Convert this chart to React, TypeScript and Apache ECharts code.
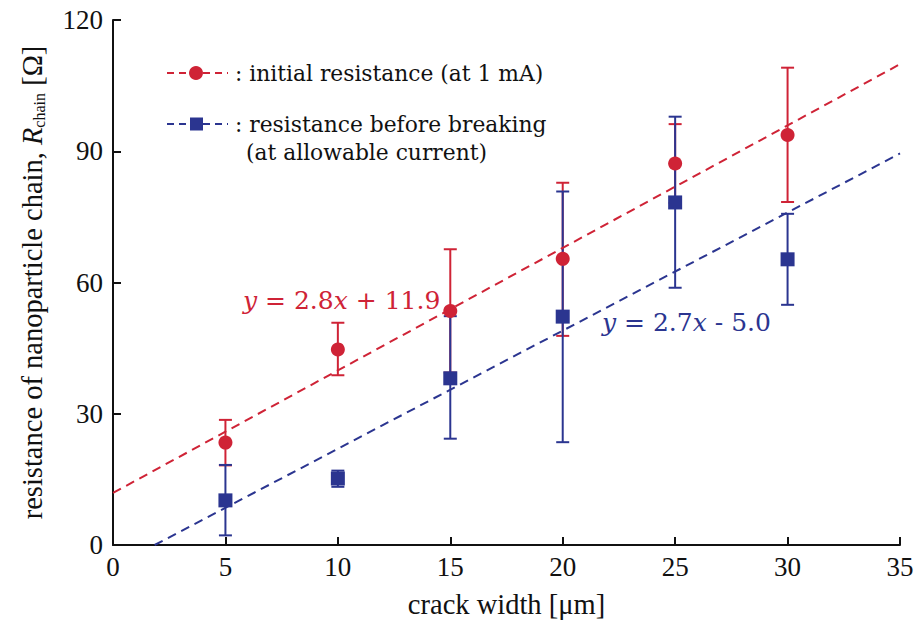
import React, { useEffect, useRef } from "react";
import * as echarts from "echarts";

const crackWidth = [5, 10, 15, 20, 25, 30];

const initialMean = [23.4, 44.7, 53.5, 65.4, 87.2, 93.7];
const initialLow = [18.2, 38.8, 39.4, 47.8, 78.2, 78.4];
const initialHigh = [28.6, 50.8, 67.6, 82.8, 96.2, 109.1];

const beforeMean = [10.2, 15.2, 38.1, 52.2, 78.3, 65.3];
const beforeLow = [2.2, 13.3, 24.3, 23.5, 58.8, 54.9];
const beforeHigh = [18.3, 17.0, 52.3, 80.8, 97.9, 75.7];

const fitSlope = [2.8, 2.7];
const fitIntercept = [11.9, -5.0];

const xTicks = [0, 5, 10, 15, 20, 25, 30, 35];
const yTicks = [0, 30, 60, 90, 120];

const RED = "#cf2336";
const BLUE = "#2b3590";
const FONT = "Liberation Serif";
const NOTE_FONT = "DejaVu Serif";

function fitLine(i: number): number[][] {
  const m = fitSlope[i];
  const b = fitIntercept[i];
  const xStart = b < 0 ? -b / m : 0;
  const xEnd = xTicks[xTicks.length - 1];
  return [
    [xStart, m * xStart + b],
    [xEnd, m * xEnd + b],
  ];
}

function errorSeries(low: number[], high: number[], color: string) {
  return {
    type: "custom",
    silent: true,
    z: 2,
    data: crackWidth.map((x, i) => [x, low[i], high[i]]),
    encode: { x: 0, y: [1, 2] },
    renderItem: (params: any, api: any) => {
      const x = api.value(0);
      const pLo = api.coord([x, api.value(1)]);
      const pHi = api.coord([x, api.value(2)]);
      const hw = 6.5;
      const st = { stroke: color, lineWidth: 2 };
      return {
        type: "group",
        children: [
          { type: "line", shape: { x1: pLo[0], y1: pLo[1], x2: pHi[0], y2: pHi[1] }, style: st },
          { type: "line", shape: { x1: pLo[0] - hw, y1: pLo[1], x2: pLo[0] + hw, y2: pLo[1] }, style: st },
          { type: "line", shape: { x1: pHi[0] - hw, y1: pHi[1], x2: pHi[0] + hw, y2: pHi[1] }, style: st },
        ],
      };
    },
  };
}

export default function App() {
  const ref = useRef<HTMLDivElement>(null);

  useEffect(() => {
    if (!ref.current) return;
    const chart = echarts.init(ref.current, undefined, { renderer: "svg" });
    const textBase = { fontFamily: FONT, fontSize: 27, color: "#111" };
    const nameSize = 28.5;
    const legendSize = 21.8;
    const eqSize = 25;

    const plainTitle = (text: string, left: number, centerY: number) => ({
      text,
      left,
      top: centerY - 13,
      padding: 0,
      textStyle: { fontFamily: NOTE_FONT, fontSize: legendSize, fontWeight: "normal", color: "#111", lineHeight: 26 },
    });

    const eqTitle = (text: string, left: number, centerY: number, color: string) => ({
      text,
      left,
      top: centerY - 15,
      padding: 0,
      textStyle: {
        fontFamily: NOTE_FONT,
        fontSize: eqSize,
        fontWeight: "normal",
        color,
        lineHeight: 30,
        rich: {
          n: { fontFamily: NOTE_FONT, fontSize: eqSize, fontWeight: "normal", color, lineHeight: 30 },
          i: { fontFamily: NOTE_FONT, fontSize: eqSize, fontWeight: "normal", color, fontStyle: "italic", lineHeight: 30 },
        },
      },
    });

    chart.setOption({
      animation: false,
      backgroundColor: "#fff",
      title: [
        plainTitle(": initial resistance (at 1 mA)", 235, 73),
        plainTitle(": resistance before breaking", 235, 124),
        plainTitle("(at allowable current)", 246, 152),
        eqTitle("{i|y}{n| = 2.8}{i|x}{n| + 11.9}", 243, 300, RED),
        eqTitle("{i|y}{n| = 2.7}{i|x}{n| - 5.0}", 602, 322, BLUE),
      ],
      grid: { left: 113, right: 17, top: 20, bottom: 83 },
      xAxis: {
        type: "value",
        min: xTicks[0],
        max: xTicks[xTicks.length - 1],
        interval: 5,
        name: "crack width [μm]",
        nameLocation: "middle",
        nameGap: 45,
        nameTextStyle: { fontFamily: FONT, fontSize: nameSize, color: "#111" },
        axisLine: { onZero: false, lineStyle: { color: "#111", width: 2 } },
        axisTick: { inside: true, length: 8, lineStyle: { color: "#111", width: 2 } },
        axisLabel: { ...textBase, margin: 8, showMinLabel: true, showMaxLabel: true },
        splitLine: { show: false },
      },
      yAxis: {
        type: "value",
        min: yTicks[0],
        max: yTicks[yTicks.length - 1],
        interval: 30,
        name: "{n|resistance of nanoparticle chain, }{i|R}{s|chain}{n| [Ω]}",
        nameLocation: "middle",
        nameGap: 66,
        nameTextStyle: {
          fontFamily: FONT,
          fontSize: nameSize,
          color: "#111",
          rich: {
            n: { fontFamily: FONT, fontSize: nameSize, color: "#111", lineHeight: 30 },
            i: { fontFamily: FONT, fontSize: nameSize, color: "#111", fontStyle: "italic", lineHeight: 30 },
            s: { fontFamily: FONT, fontSize: 16, color: "#111", lineHeight: 30, verticalAlign: "bottom", padding: [12, 0, 0, 0] },
          },
        },
        axisLine: { onZero: false, lineStyle: { color: "#111", width: 2 } },
        axisTick: { inside: true, length: 8, lineStyle: { color: "#111", width: 2 } },
        axisLabel: { ...textBase, margin: 10, showMinLabel: true, showMaxLabel: true },
        splitLine: { show: false },
      },
      series: [
        errorSeries(initialLow, initialHigh, RED),
        errorSeries(beforeLow, beforeHigh, BLUE),
        {
          type: "line",
          data: fitLine(0),
          showSymbol: false,
          silent: true,
          z: 3,
          lineStyle: { color: RED, width: 2, type: [9, 6] },
        },
        {
          type: "line",
          data: fitLine(1),
          showSymbol: false,
          silent: true,
          z: 3,
          lineStyle: { color: BLUE, width: 2, type: [9, 6] },
        },
        {
          type: "scatter",
          data: crackWidth.map((x, i) => [x, beforeMean[i]]),
          symbol: "rect",
          symbolSize: 14,
          z: 4,
          itemStyle: { color: BLUE, opacity: 1 },
        },
        {
          type: "scatter",
          data: crackWidth.map((x, i) => [x, initialMean[i]]),
          symbol: "circle",
          symbolSize: 14,
          z: 5,
          itemStyle: { color: RED, opacity: 1 },
        },
      ],
      graphic: [
        {
          type: "line",
          shape: { x1: 167, y1: 73, x2: 228, y2: 73 },
          style: { stroke: RED, lineWidth: 2, lineDash: [7, 5] },
        },
        { type: "circle", shape: { cx: 196, cy: 73, r: 7 }, style: { fill: RED } },
        {
          type: "line",
          shape: { x1: 167, y1: 124, x2: 228, y2: 124 },
          style: { stroke: BLUE, lineWidth: 2, lineDash: [7, 5] },
        },
        { type: "rect", shape: { x: 190, y: 117.5, width: 13, height: 13 }, style: { fill: BLUE } },
      ],
    });

    return () => chart.dispose();
  }, []);

  return (
    <div
      ref={ref}
      style={{ position: "fixed", left: 0, top: 0, width: 917, height: 628 }}
    />
  );
}
